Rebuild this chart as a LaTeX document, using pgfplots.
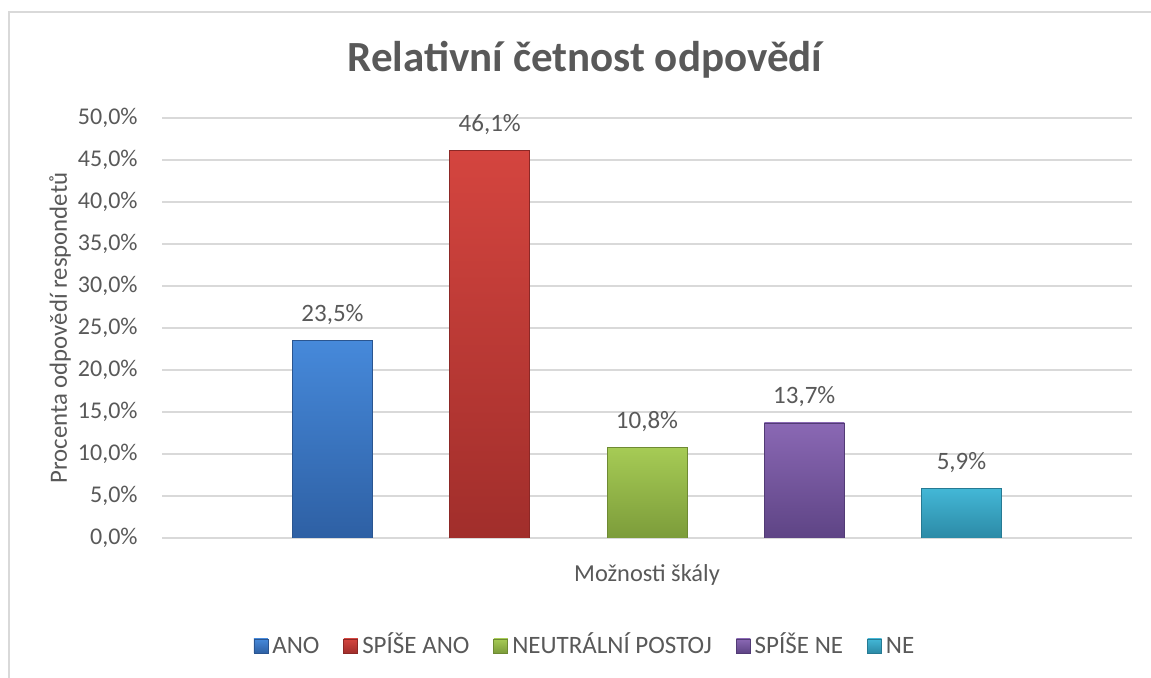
\documentclass[border=0pt]{standalone}
\usepackage{fontspec}
\setmainfont{Carlito}
\usepackage{pgfplots}
\pgfplotsset{compat=1.18}
\definecolor{txt}{HTML}{595959}
\definecolor{grd}{HTML}{D9D9D9}
% bar colours: top / bottom of the gradient, edge
\definecolor{anoT}{HTML}{4689DA}\definecolor{anoB}{HTML}{2E60A4}\definecolor{anoE}{HTML}{2A5590}
\definecolor{saT}{HTML}{D4453F}\definecolor{saB}{HTML}{A12E2B}\definecolor{saE}{HTML}{8C2826}
\definecolor{neT}{HTML}{A6CB55}\definecolor{neB}{HTML}{7C9C3A}\definecolor{neE}{HTML}{6E8A33}
\definecolor{snT}{HTML}{8A68B4}\definecolor{snB}{HTML}{5E4485}\definecolor{snE}{HTML}{523B75}
\definecolor{neeT}{HTML}{43B7D6}\definecolor{neeB}{HTML}{2C8AA6}\definecolor{neeE}{HTML}{267A93}
\begin{document}
\begin{tikzpicture}
\useasboundingbox (0,0) rectangle (575.5pt,339pt);
\fill[white] (0,0) rectangle (575.5pt,339pt);
\draw[grd, line width=0.8pt] (4.5pt,-2pt) -- (4.5pt,333pt) -- (580pt,333pt);
\node[anchor=base, font=\fontsize{21.5}{24}\selectfont\bfseries, text=txt]
  at (292.5pt,303pt) {Relativní četnost odpovědí};
\begin{axis}[at={(81pt,70pt)}, anchor=south west,
  scale only axis, width=485pt, height=210pt,
  ybar, bar width=40pt,
  xmin=-0.084, xmax=6.084, xtick=\empty,
  ymin=0, ymax=50, ytick={0,5,...,50},
  yticklabels={{0,0\%},{5,0\%},{10,0\%},{15,0\%},{20,0\%},{25,0\%},{30,0\%},{35,0\%},{40,0\%},{45,0\%},{50,0\%}},
  yticklabel style={anchor=east, inner sep=0pt, xshift=-12pt, font=\fontsize{12}{14}\selectfont, text=txt},
  axis line style={draw=none}, major tick length=0pt,
  ymajorgrids, grid style={grd, line width=1pt},
  ylabel={Procenta odpovědí respondetů},
  ylabel style={at={(axis description cs:-0.105,0.5)}, rotate=0, anchor=center,
    font=\fontsize{12.4}{14}\selectfont, text=txt},
  xlabel={Možnosti škály},
  xlabel style={at={(axis description cs:0.5,-0.088)}, anchor=center,
    font=\fontsize{12.2}{14}\selectfont, text=txt},
  nodes near coords={\pgfmathprintnumber[fixed,fixed zerofill,precision=1,use comma,assume math mode=true]{\pgfplotspointmeta}\%},
  nodes near coords style={anchor=base, yshift=9.5pt, font=\fontsize{12.5}{14}\selectfont, text=txt},
  legend columns=5,
  legend style={at={(axis description cs:0.437,-0.257)}, anchor=center, draw=none,
    font=\fontsize{12.5}{14}\selectfont, text=txt,
    nodes={text height=1.75ex, text depth=0.25ex},
    /tikz/every even column/.append style={column sep=10pt}},
  legend image code/.code={\draw[#1, line width=0.4pt] (0pt,-3.5pt) rectangle (7pt,3.5pt);},
]
\addplot[bar shift=0pt, draw=anoE, top color=anoT, bottom color=anoB] coordinates {(1,23.5)};
\addplot[bar shift=0pt, draw=saE, top color=saT, bottom color=saB] coordinates {(2,46.1)};
\addplot[bar shift=0pt, draw=neE, top color=neT, bottom color=neB] coordinates {(3,10.8)};
\addplot[bar shift=0pt, draw=snE, top color=snT, bottom color=snB] coordinates {(4,13.7)};
\addplot[bar shift=0pt, draw=neeE, top color=neeT, bottom color=neeB] coordinates {(5,5.9)};
\legend{ANO,SPÍŠE ANO,NEUTRÁLNÍ POSTOJ,SPÍŠE NE,NE}
\end{axis}
\end{tikzpicture}
\end{document}
